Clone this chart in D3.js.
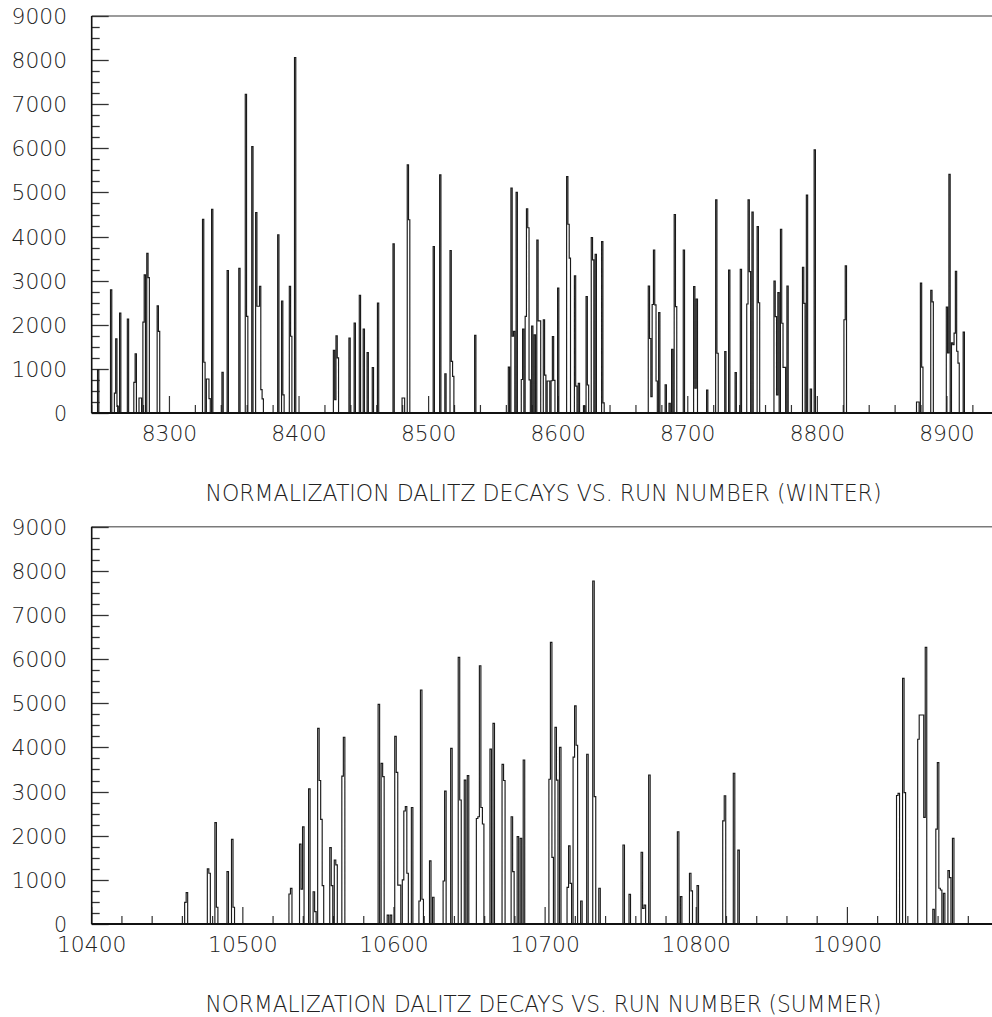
<!DOCTYPE html>
<html>
<head>
<meta charset="utf-8">
<script src="https://cdn.jsdelivr.net/npm/d3@7"></script>
<style>
  html, body { margin: 0; padding: 0; background: #fff; }
  svg { display: block; }
  text { font-family: "DejaVu Sans", sans-serif; font-weight: 200; fill: #222; }
</style>
</head>
<body>
<svg id="chart" width="992" height="1017"></svg>
<script>
// ---------------- DATA ----------------
const winterRuns = [
  8245, 8255, 8258, 8259, 8260, 8262, 8268, 8273, 8274, 8277, 8278, 8280, 8281, 8283, 8284,
  8291, 8292, 8326, 8327, 8329, 8330, 8331, 8333, 8341, 8345, 8354, 8359, 8360, 8364, 8367,
  8368, 8369, 8370, 8371, 8372, 8384, 8387, 8388, 8393, 8394, 8397,
  8427, 8428, 8429, 8430, 8439, 8443, 8447, 8450, 8453, 8457, 8461, 8473, 8480, 8481, 8484,
  8485, 8504, 8509, 8513, 8517, 8518, 8519, 8536,
  8562, 8564, 8565, 8566, 8568, 8572, 8573, 8575, 8576, 8577, 8578, 8580, 8582, 8584, 8585,
  8586, 8589, 8590, 8592, 8593, 8595, 8596, 8597, 8600, 8607, 8608, 8609, 8613, 8614, 8616,
  8620, 8622, 8623, 8626, 8627, 8629, 8634, 8635,
  8670, 8671, 8672, 8673, 8674, 8675, 8676, 8678, 8683, 8686, 8688, 8690, 8691, 8697, 8705,
  8706, 8707, 8715, 8722, 8723, 8729, 8732, 8737, 8741, 8746, 8747, 8748, 8750, 8754, 8755,
  8767, 8768, 8769, 8770, 8772, 8773, 8774, 8775, 8777, 8789, 8790, 8792, 8795, 8798,
  8821, 8822, 8877, 8878, 8880, 8881, 8888, 8889, 8900, 8901, 8902, 8904, 8905, 8906, 8907,
  8908, 8909, 8913
];
const winterCounts = [
  980, 2790, 450, 1680, 150, 2265, 2130, 695, 1344, 340, 340, 2060, 3130, 3620, 3070,
  2430, 1850, 4390, 1150, 770, 770, 325, 4620, 920, 3230, 3280, 7225, 2190, 6040, 4545,
  2420, 2420, 2870, 530, 320, 4040, 2540, 410, 2870, 1740, 8060,
  1420, 300, 1750, 1250, 1700, 2040, 2670, 1900, 1370, 1030, 2490, 3835, 340, 340, 5625,
  4380, 3775, 5400, 890, 3685, 1170, 830, 1760,
  1040, 5100, 1740, 1850, 5000, 760, 1900, 2190, 4630, 4200, 750, 1970, 1770, 3920, 2090,
  2090, 2110, 860, 725, 725, 730, 1730, 740, 2830, 5360, 4280, 3510, 3110, 610, 670,
  160, 2640, 635, 3975, 3470, 3600, 3885, 230,
  2880, 1690, 370, 2460, 3695, 2450, 725, 2275, 640, 220, 1445, 4500, 2410, 3695, 2865,
  560, 2585, 520, 4830, 1355, 1390, 3240, 915, 3255, 2470, 4830, 3205, 4555, 4225, 2500,
  2990, 2185, 410, 2730, 4165, 2035, 1035, 1035, 2880, 3305, 2485, 4940, 545, 5965,
  2115, 3335, 250, 250, 2945, 1040, 2780, 2520, 2400, 1360, 5410, 1590, 1550, 1810, 3210,
  1400, 1130, 1835
];

const summerRuns = [
  10462, 10463, 10477, 10478, 10482, 10483, 10490, 10493, 10494,
  10531, 10532, 10538, 10539, 10540, 10544, 10547, 10548, 10550, 10551, 10552, 10553,
  10558, 10559, 10561, 10562, 10566, 10567,
  10590, 10592, 10593, 10596, 10598, 10601, 10602, 10603, 10604, 10606, 10607, 10608, 10609,
  10612, 10617, 10618, 10619, 10624, 10626, 10633, 10634, 10638, 10643, 10644, 10647, 10649,
  10655, 10656, 10657, 10658, 10659, 10664, 10666, 10672, 10673, 10678, 10679, 10682, 10684,
  10686, 10703, 10704, 10705, 10707, 10708, 10710, 10715, 10716, 10717, 10719, 10720, 10721,
  10724, 10728, 10732, 10733, 10736, 10752, 10756, 10764, 10765, 10766, 10769, 10788, 10790,
  10796, 10797, 10801, 10818, 10819, 10825, 10828,
  10933, 10934, 10937, 10938, 10947, 10948, 10949, 10950, 10951, 10952, 10957, 10959, 10960,
  10961, 10962, 10964, 10967, 10968, 10970
];
const summerCounts = [
  490, 710, 1250, 1150, 2295, 380, 1185, 1918, 380,
  680, 808, 1810, 790, 2200, 3060, 730, 280, 4430, 3250, 2370, 870,
  1730, 870, 1450, 1340, 3350, 4230,
  4975, 3640, 3340, 200, 200, 4250, 3435, 880, 880, 1000, 2560, 2660, 1150,
  2640, 520, 5300, 560, 1430, 605, 975, 3010, 3980, 6040, 2810, 3260, 3360,
  2390, 2430, 5850, 2640, 2265, 3960, 4545, 3615, 3250, 2430, 1185, 1980, 1940,
  3715, 3280, 6380, 1510, 4455, 3260, 4000, 830, 1770, 920, 3780, 4940, 4050,
  520, 3845, 7770, 2885, 810, 1790, 670, 1625, 355, 430, 3375, 2090, 620,
  1150, 750, 870, 2335, 2905, 3415, 1675,
  2910, 2960, 5565, 2975, 4185, 4735, 4735, 4735, 2415, 6265, 330, 2150, 3655,
  810, 770, 695, 1210, 1050, 1940
];

const yTickValues = [0, 1000, 2000, 3000, 4000, 5000, 6000, 7000, 8000, 9000];
const winterXTicks = [8300, 8400, 8500, 8600, 8700, 8800, 8900];
const summerXTicks = [10400, 10500, 10600, 10700, 10800, 10900];
const winterTitle = "NORMALIZATION DALITZ DECAYS VS. RUN NUMBER (WINTER)";
const summerTitle = "NORMALIZATION DALITZ DECAYS VS. RUN NUMBER (SUMMER)";

// ---------------- DRAW ----------------
const svg = d3.select("#chart");
const digitW = 14.1;

function drawPanel(cfg) {
  const { runs, counts, xDomain, xRange, yBase, yTop, xTicks, title, titleY } = cfg;
  const x = d3.scaleLinear().domain(xDomain).range(xRange);
  const y = d3.scaleLinear().domain([0, 9000]).range([yBase, yTop]);
  const g = svg.append("g");
  const left = xRange[0];

  // top frame line
  g.append("line").attr("x1", left).attr("x2", 992).attr("y1", yTop).attr("y2", yTop)
    .attr("stroke", "#7a7a7a").attr("stroke-width", 1.6);

  // y ticks (inside, pointing right)
  const yMinor = d3.range(0, 9001, 250);
  g.selectAll(".ytick").data(yMinor).enter().append("line")
    .attr("x1", left).attr("x2", d => left + (d % 1000 === 0 ? 17 : 8))
    .attr("y1", d => Math.round(y(d)) + 0.5).attr("y2", d => Math.round(y(d)) + 0.5)
    .attr("stroke", "#333").attr("stroke-width", 1.3);

  g.selectAll(".ylab").data(yTickValues).enter().append("text")
    .attr("x", 67).attr("y", d => y(d) + 1)
    .attr("text-anchor", "end").attr("dominant-baseline", "central")
    .attr("font-size", 21)
    .attr("textLength", d => String(d).length * digitW - 1)
    .attr("lengthAdjust", "spacingAndGlyphs")
    .text(d => d);

  // x ticks (inside, pointing up)
  const xt = [];
  for (let v = Math.ceil(xDomain[0] / 20) * 20; v <= xDomain[1]; v += 20) xt.push(v);
  g.selectAll(".xtick").data(xt).enter().append("line")
    .attr("x1", d => x(d)).attr("x2", d => x(d))
    .attr("y1", yBase).attr("y2", d => yBase - (d % 100 === 0 ? 17 : 8))
    .attr("stroke", "#333").attr("stroke-width", 1.2);

  g.selectAll(".xlab").data(xTicks).enter().append("text")
    .attr("x", d => x(d)).attr("y", yBase + 21)
    .attr("text-anchor", "middle").attr("dominant-baseline", "central")
    .attr("font-size", 21)
    .attr("textLength", d => String(d).length * digitW - 1)
    .attr("lengthAdjust", "spacingAndGlyphs")
    .text(d => d);

  // histogram outline (each bin one run wide)
  const p = d3.path();
  let prevEnd = null;
  p.moveTo(left, y(0));
  runs.forEach((r, i) => {
    const x0 = x(r - 0.5), x1 = x(r + 0.5), v = y(counts[i]);
    if (prevEnd === null || Math.abs(prevEnd - (r - 0.5)) > 1e-9) {
      p.lineTo(x0, y(0));
    }
    p.lineTo(x0, v);
    p.lineTo(x1, v);
    prevEnd = r + 0.5;
    const next = runs[i + 1];
    if (next === undefined || next - 0.5 !== prevEnd) p.lineTo(x1, y(0));
  });
  g.append("path").attr("d", p.toString())
    .attr("fill", "none").attr("stroke", "#1a1a1a").attr("stroke-width", 1.15);

  // axes lines
  g.append("line").attr("x1", left).attr("x2", 992).attr("y1", yBase).attr("y2", yBase)
    .attr("stroke", "#111").attr("stroke-width", 2.2);
  g.append("line").attr("x1", left).attr("x2", left).attr("y1", yTop).attr("y2", yBase)
    .attr("stroke", "#111").attr("stroke-width", 1.6);

  // title
  g.append("text").attr("x", 543.5).attr("y", titleY)
    .attr("text-anchor", "middle").attr("dominant-baseline", "central")
    .attr("font-size", 23)
    .attr("textLength", 676).attr("lengthAdjust", "spacingAndGlyphs")
    .text(title);
}

drawPanel({
  runs: winterRuns, counts: winterCounts,
  xDomain: [8240, 8935], xRange: [91.7, 992.3],
  yBase: 413, yTop: 16, xTicks: winterXTicks,
  title: winterTitle, titleY: 493
});
drawPanel({
  runs: summerRuns, counts: summerCounts,
  xDomain: [10400, 10996], xRange: [91.7, 992.5],
  yBase: 924, yTop: 526.7, xTicks: summerXTicks,
  title: summerTitle, titleY: 1004
});
</script>
</body>
</html>
